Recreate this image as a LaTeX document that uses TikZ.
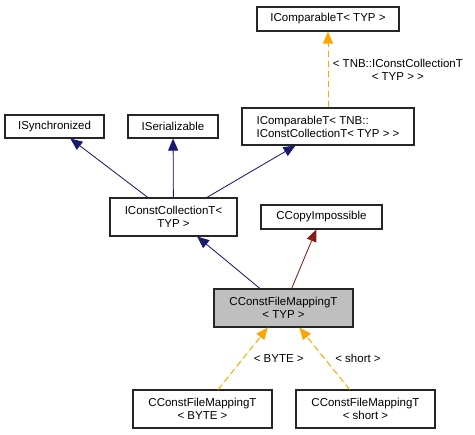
\documentclass[tikz,border=0pt]{standalone}
\usepackage{fontspec}
\setmainfont{Liberation Sans}
\usetikzlibrary{arrows.meta,positioning}
\definecolor{inhblue}{HTML}{191970}
\definecolor{inhred}{HTML}{8B1A1A}
\definecolor{tmplorange}{HTML}{FFA500}
\definecolor{curgray}{HTML}{BFBFBF}

\begin{document}
\begin{tikzpicture}[
    x=1pt, y=-1pt,
    cls/.style={rectangle, draw=black!85, line width=1.1pt, fill=white, align=center, inner sep=0pt, minimum height=24pt, font=\fontsize{11.5}{13}\selectfont},
    tallcls/.style={cls, minimum height=38pt},
    pub/.style={-{Triangle[length=12pt,width=10pt]}, draw=inhblue, fill=inhblue, line width=0.8pt},
    priv/.style={-{Triangle[length=12pt,width=10pt]}, draw=inhred, fill=inhred, line width=0.8pt},
    tmpl/.style={-{Triangle[length=12pt,width=10pt]}, draw=tmplorange, fill=tmplorange, line width=1pt, dash pattern=on 6pt off 4pt},
    lbl/.style={font=\fontsize{11.5}{13}\selectfont, align=center}
]
\useasboundingbox (0,0) rectangle (475,435);

\node[cls, minimum width=142pt] (cmptyp) at (328,19) {IComparableT< TYP >};
\node[cls, minimum width=99pt, minimum height=23pt] (sync) at (54.5,126.5) {ISynchronized};
\node[cls, minimum width=90pt, minimum height=23pt] (serial) at (173,126.5) {ISerializable};
\node[tallcls, minimum width=172pt, minimum height=37pt, align=left] (cmpcoll) at (328,126.5) {IComparableT< TNB::\\IConstCollectionT< TYP > >};
\node[tallcls, minimum width=127pt] (coll) at (173.5,217) {IConstCollectionT<\\TYP >};
\node[cls, minimum width=121pt] (copy) at (321.5,217) {CCopyImpossible};
\node[tallcls, minimum width=139pt, fill=curgray] (fmap) at (283.5,308) {CConstFileMappingT\\< TYP >};
\node[tallcls, minimum width=139pt] (fbyte) at (202.5,409) {CConstFileMappingT\\< BYTE >};
\node[tallcls, minimum width=139pt] (fshort) at (365.5,409) {CConstFileMappingT\\< short >};

\draw[tmpl] (cmpcoll) -- node[lbl, midway, right=1pt] {< TNB::IConstCollectionT\\< TYP > >} (cmptyp);
\draw[pub] (coll) -- (sync);
\draw[pub] (coll) -- (serial);
\draw[pub] (coll) -- (cmpcoll);
\draw[pub] (fmap) -- (coll);
\draw[priv] (fmap) -- (copy);
\draw[tmpl] (fbyte) -- node[lbl, midway, right=7pt] {< BYTE >} (fmap);
\draw[tmpl] (fshort) -- node[lbl, midway, right=7pt] {< short >} (fmap);

\end{tikzpicture}
\end{document}
